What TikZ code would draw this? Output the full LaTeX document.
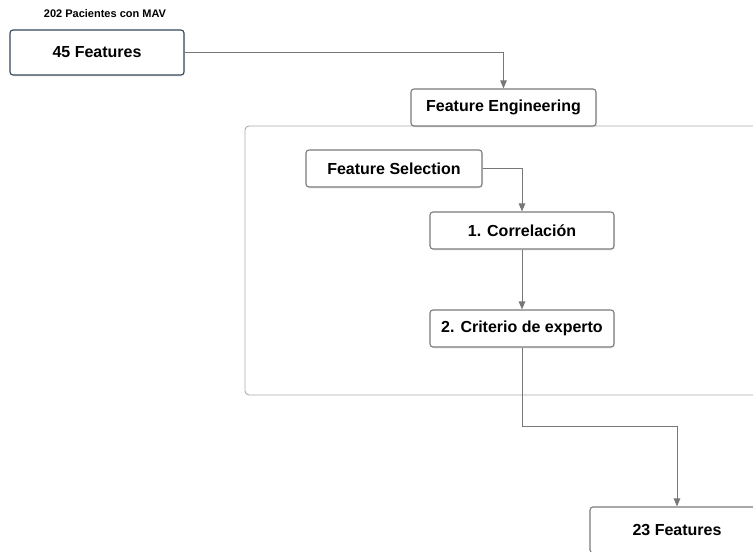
\documentclass[tikz,border=0pt]{standalone}
\usepackage{fontspec}
\setmainfont{Liberation Sans}
\usetikzlibrary{arrows.meta,shadows}
\definecolor{linegray}{HTML}{777777}
\definecolor{boxgray}{HTML}{7A7A7A}
\definecolor{darkedge}{HTML}{34465A}
\definecolor{framegray}{HTML}{ABABAB}

\begin{document}
\begin{tikzpicture}[x=1pt,y=-1pt]

\useasboundingbox (0,0) rectangle (753,552);
\clip (0,0) rectangle (753,552);

\tikzstyle{b}=[shape=rectangle,draw=boxgray,line width=1.1pt,rounded corners=3pt,fill=white,
  drop shadow={opacity=0.12,shadow xshift=1pt,shadow yshift=-1.5pt},
  font=\fontsize{16}{18}\selectfont\bfseries,inner sep=0pt,minimum height=37pt]
\tikzstyle{l}=[draw=linegray,line width=0.9pt,-{Triangle[length=8pt,width=6.5pt]}]

% container
\node[shape=rectangle,draw=framegray,line width=0.9pt,rounded corners=4pt,
  minimum width=545pt,minimum height=269pt,inner sep=0pt] (frame) at (517.5,260.5) {};

\node[font=\fontsize{11}{13}\selectfont\bfseries] (title) at (105,14) {202 Pacientes con MAV};
\node[b,draw=darkedge,minimum width=174pt,minimum height=45pt] (f45) at (97,52.5) {45 Features};
\node[b,minimum width=185pt] (fe) at (503.5,107.5) {Feature Engineering};
\node[b,minimum width=176pt] (fs) at (394,168.5) {Feature Selection};
\node[b,minimum width=184pt] (corr) at (522,230.5) {1. Correlación};
\node[b,minimum width=184pt] (crit) at (522,328.5) {2. Criterio de experto};
\node[b,minimum width=174pt,minimum height=46pt] (f23) at (677,530) {23 Features};

\coordinate (bend) at (522,426);

\draw[l] (f45.east) -| (fe.north);
\draw[l] (fs.east) -| (corr.north);
\draw[l] (corr) -- (crit);
\draw[l] (crit.south) -- (bend) -| (f23.north);

\end{tikzpicture}
\end{document}
